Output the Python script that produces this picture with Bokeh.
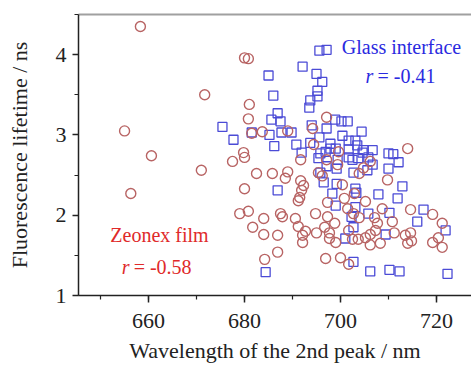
from bokeh.plotting import figure
from bokeh.models import (Range1d, SingleIntervalTicker, Label, LinearAxis, FixedTicker)
from bokeh.embed import file_html
from bokeh.resources import INLINE

# Glass interface (blue squares)
glass_x = [695.6, 697.1, 692.1, 685.0, 695.0, 696.2, 695.2, 695.2, 686.0, 693.7,
           693.5, 686.9, 685.6, 687.5, 698.9, 700.2, 701.5, 687.7, 689.8, 685.2,
           681.5, 694.0, 697.1, 704.4, 677.7, 686.2, 690.8, 693.7, 695.6, 697.9,
           700.4, 701.7, 703.1, 703.5, 697.9, 699.0, 691.9, 695.8, 696.9, 701.7,
           704.8, 706.7, 701.7, 704.6, 710.0, 711.0, 712.1, 695.4, 699.4, 702.5,
           703.7, 702.7, 705.8, 705.6, 706.7, 710.0, 697.1, 699.2, 695.8, 696.5,
           699.2, 686.9, 698.3, 712.9, 707.9, 711.9, 703.1, 703.3, 699.0, 684.4,
           703.1, 702.3, 705.8, 710.2, 702.7, 701.0, 709.4, 717.3, 716.0, 721.9,
           702.7, 706.2, 710.2, 712.3, 722.3, 675.4]
glass_y = [4.05, 4.06, 3.85, 3.74, 3.76, 3.66, 3.55, 3.48, 3.49, 3.43,
           3.34, 3.27, 3.19, 3.17, 3.19, 3.17, 3.17, 3.03, 3.03, 3.00,
           3.03, 3.12, 3.08, 3.04, 2.94, 2.86, 2.88, 2.90, 2.97, 2.89,
           2.99, 2.93, 2.93, 2.87, 2.83, 2.83, 2.78, 2.77, 2.79, 2.82,
           2.81, 2.81, 2.72, 2.78, 2.77, 2.76, 2.66, 2.71, 2.69, 2.69,
           2.71, 2.53, 2.72, 2.56, 2.63, 2.58, 2.61, 2.58, 2.53, 2.41,
           2.39, 2.31, 2.27, 2.36, 2.26, 2.21, 2.33, 2.28, 2.12, 1.29,
           2.10, 1.98, 2.02, 2.03, 1.85, 1.71, 1.76, 2.07, 1.92, 1.81,
           1.42, 1.30, 1.32, 1.30, 1.27, 3.10]

# Zeonex film (red circles)
zeonex_x = [658.3, 655.0, 660.6, 671.7, 671.0, 656.3, 677.5, 679.8, 680.0, 680.0,
            680.8, 681.0, 680.8, 681.5, 683.7, 689.0, 694.2, 697.1, 714.0, 691.7,
            694.4, 699.6, 697.1, 699.4, 706.2, 704.8, 703.9, 709.8, 682.5, 685.8,
            689.0, 695.4, 691.7, 688.5, 696.2, 680.0, 692.3, 691.9, 691.5, 697.3,
            700.4, 702.9, 700.8, 705.2, 679.0, 680.8, 684.0, 681.7, 684.0, 686.9,
            687.5, 687.9, 690.6, 691.2, 692.7, 692.1, 692.1, 694.8, 695.0, 697.3,
            696.7, 697.7, 697.7, 699.0, 698.8, 686.9, 684.2, 696.9, 700.0, 691.2,
            701.5, 702.7, 703.9, 708.7, 707.1, 707.7, 707.3, 706.2, 705.2, 703.7,
            702.5, 701.7, 706.2, 708.3, 710.8, 711.2, 714.6, 719.2, 721.2, 720.4,
            721.2, 719.2, 713.5, 714.6, 714.8, 714.0, 701.7]
zeonex_y = [4.35, 3.05, 2.74, 3.50, 2.56, 2.27, 2.67, 2.78, 2.72, 3.96,
            3.95, 3.38, 3.20, 3.02, 3.04, 3.05, 3.08, 3.22, 2.83, 2.69,
            2.88, 2.79, 2.69, 2.63, 2.67, 2.59, 2.52, 2.44, 2.52, 2.52,
            2.54, 2.53, 2.43, 2.46, 2.49, 2.33, 2.37, 2.31, 2.22, 2.16,
            2.38, 2.27, 2.21, 2.17, 2.02, 2.05, 1.96, 1.85, 1.76, 1.75,
            2.02, 1.98, 1.96, 1.86, 1.80, 1.75, 1.66, 2.02, 1.78, 1.98,
            1.85, 1.78, 1.71, 1.66, 1.90, 1.54, 1.45, 1.46, 1.47, 2.18,
            2.08, 2.02, 1.97, 2.08, 1.97, 1.90, 1.81, 1.76, 1.72, 1.70,
            1.70, 1.81, 1.63, 1.65, 1.92, 1.78, 2.07, 2.01, 1.90, 1.72,
            1.60, 1.66, 1.75, 1.78, 1.68, 1.65, 1.39]

FONT = "Liberation Serif"

p = figure(width=471, height=365, output_backend="svg", toolbar_location=None,
           x_range=Range1d(645.4, 727.3), y_range=Range1d(1.0, 4.5),
           min_border_left=78, min_border_right=0, min_border_top=14,
           min_border_bottom=70)
p.outline_line_color = None
p.xgrid.visible = False
p.ygrid.visible = False
p.background_fill_color = "white"
p.border_fill_color = "white"

p.xaxis.ticker = SingleIntervalTicker(interval=20, num_minor_ticks=2)
p.yaxis.ticker = SingleIntervalTicker(interval=1, num_minor_ticks=2)

for ax in (p.xaxis[0], p.yaxis[0]):
    ax.axis_line_color = "#222222"
    ax.axis_line_width = 1.5
    ax.major_tick_line_color = "#222222"
    ax.minor_tick_line_color = "#222222"
    ax.major_tick_line_width = 1.5
    ax.minor_tick_line_width = 1.2
    ax.major_tick_in = 0
    ax.minor_tick_in = 0
    ax.major_label_text_font = FONT
    ax.major_label_text_font_size = "22px"
    ax.major_label_text_color = "#222222"
    ax.axis_label_text_font = FONT
    ax.axis_label_text_font_size = "22px"
    ax.axis_label_text_font_style = "normal"
    ax.axis_label_text_color = "#222222"

p.xaxis.major_tick_out = 7
p.xaxis.minor_tick_out = 4
p.xaxis.major_label_standoff = 11
p.xaxis.axis_label = "Wavelength of the 2nd peak / nm"
p.xaxis.axis_label_standoff = 7

p.yaxis.major_tick_out = 6
p.yaxis.minor_tick_out = 4
p.yaxis.major_label_standoff = 6
p.yaxis.axis_label = "Fluorescence lifetime / ns"
p.yaxis.axis_label_standoff = 21

# grey top border as a bare axis without ticks or labels
top = LinearAxis(ticker=FixedTicker(ticks=[]), axis_line_color="#a0a0a0",
                 axis_line_width=2, major_tick_line_color=None,
                 minor_tick_line_color=None, major_label_standoff=0,
                 major_tick_out=0, minor_tick_out=0)
p.add_layout(top, "above")

p.scatter(glass_x, glass_y, marker="square", size=9, fill_color=None,
          line_color="#4b4bd6", line_width=1.3)
p.scatter(zeonex_x, zeonex_y, marker="circle", size=10, fill_color=None,
          line_color="#b86464", line_width=1.4)

blue = "#2a2ae0"
red = "#e02a2a"
FS = "20px"
p.add_layout(Label(x=712.7, y=4.09, text="Glass interface", text_align="center",
                   text_baseline="middle", text_font=FONT, text_font_size=FS,
                   text_color=blue))
p.add_layout(Label(x=705.2, y=3.74, text="r", text_align="left",
                   text_baseline="middle", text_font=FONT, text_font_size=FS,
                   text_font_style="italic", text_color=blue))
p.add_layout(Label(x=707.7, y=3.74, text="= -0.41", text_align="left",
                   text_baseline="middle", text_font=FONT, text_font_size=FS,
                   text_color=blue))
p.add_layout(Label(x=662.8, y=1.75, text="Zeonex  film", text_align="center",
                   text_baseline="middle", text_font=FONT, text_font_size=FS,
                   text_color=red))
p.add_layout(Label(x=654.4, y=1.35, text="r", text_align="left",
                   text_baseline="middle", text_font=FONT, text_font_size=FS,
                   text_font_style="italic", text_color=red))
p.add_layout(Label(x=656.9, y=1.35, text="= -0.58", text_align="left",
                   text_baseline="middle", text_font=FONT, text_font_size=FS,
                   text_color=red))

open("out.html", "w").write(file_html(p, INLINE))
